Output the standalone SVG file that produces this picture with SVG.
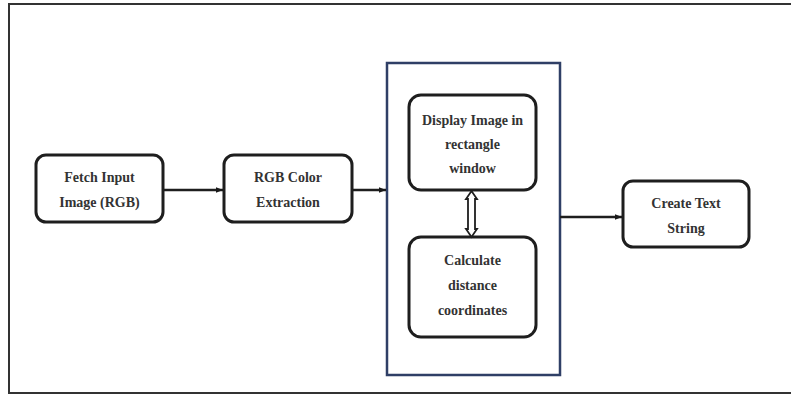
<svg xmlns="http://www.w3.org/2000/svg" width="791" height="396" viewBox="0 0 791 396">
<defs>
<marker id="ah" viewBox="0 0 10 10" refX="10" refY="5" markerWidth="7" markerHeight="7" markerUnits="userSpaceOnUse" orient="auto">
<path d="M0,1 L10,5 L0,9 z" fill="#1a1a1a"/>
</marker>
</defs>
<style>
.box{fill:#fff;stroke:#1e1e1e;stroke-width:3}
.lbl{font-family:"Liberation Serif","Times New Roman",serif;font-weight:bold;font-size:14px;fill:#333;text-anchor:middle}
.conn{stroke:#1e1e1e;stroke-width:2.5;fill:none}
</style>
<rect x="0" y="0" width="791" height="396" fill="#fff"/>
<rect x="9" y="4" width="783" height="389" fill="none" stroke="#333" stroke-width="2"/>
<g id="container">
<rect x="387" y="63" width="173" height="312" fill="none" stroke="#2f3f66" stroke-width="2.5"/>
</g>
<g id="fetch">
<rect class="box" x="36" y="155" width="127" height="67" rx="10"/>
<text class="lbl" x="99.5" y="182">Fetch Input</text>
<text class="lbl" x="99.5" y="207">Image (RGB)</text>
</g>
<g id="rgb">
<rect class="box" x="224" y="155" width="128" height="67" rx="10"/>
<text class="lbl" x="288" y="182">RGB Color</text>
<text class="lbl" x="288" y="207">Extraction</text>
</g>
<g id="display">
<rect class="box" x="409" y="95" width="127" height="95" rx="12"/>
<text class="lbl" x="472.5" y="125">Display Image in</text>
<text class="lbl" x="472.5" y="149">rectangle</text>
<text class="lbl" x="472.5" y="173">window</text>
</g>
<g id="calculate">
<rect class="box" x="409" y="237" width="127" height="100" rx="12"/>
<text class="lbl" x="472.5" y="265">Calculate</text>
<text class="lbl" x="472.5" y="290">distance</text>
<text class="lbl" x="472.5" y="315">coordinates</text>
</g>
<g id="create">
<rect class="box" x="623" y="181" width="126" height="66" rx="10"/>
<text class="lbl" x="686" y="208">Create Text</text>
<text class="lbl" x="686" y="233">String</text>
</g>
<g id="connectors">
<line class="conn" x1="163" y1="190" x2="223" y2="190" marker-end="url(#ah)"/>
<line class="conn" x1="352" y1="190" x2="386" y2="190" marker-end="url(#ah)"/>
<line class="conn" x1="560" y1="217" x2="622" y2="217" marker-end="url(#ah)"/>
<path d="M471.5,191 L477,199 L475,199 L475,229 L477,229 L471.5,237 L466,229 L468,229 L468,199 L466,199 Z" fill="#fff" stroke="#1e1e1e" stroke-width="1.8" stroke-linejoin="miter"/>
</g>
</svg>
